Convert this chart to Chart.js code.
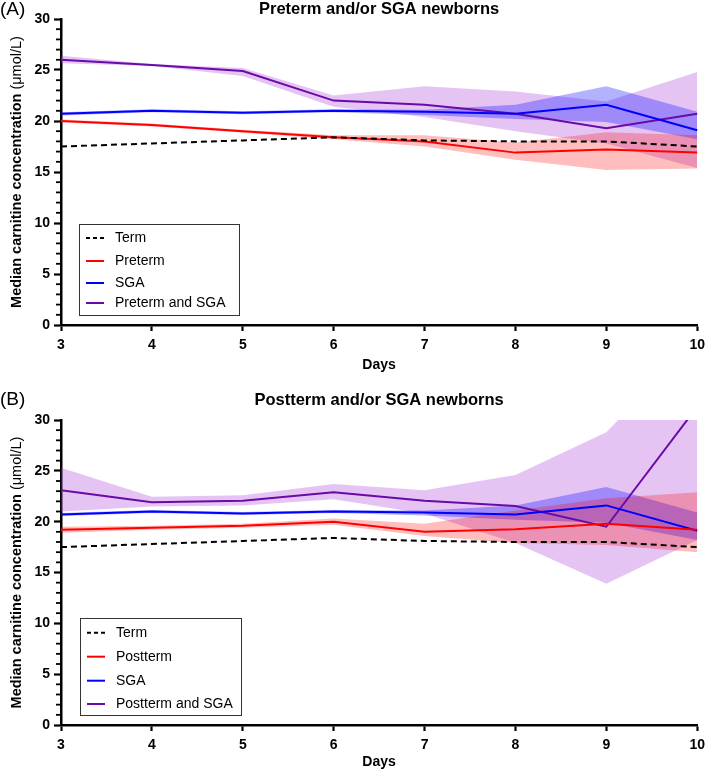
<!DOCTYPE html>
<html><head><meta charset="utf-8">
<script src="https://cdn.jsdelivr.net/npm/chart.js@4.4.1/dist/chart.umd.min.js"></script>
<style>
html,body{margin:0;padding:0;background:#fff;}
#wrap{position:relative;width:709px;height:771px;overflow:hidden;}
canvas{position:absolute;left:0;display:block;}
</style></head><body>
<div id="wrap">
<canvas id="cA" width="711" height="385" style="top:0"></canvas>
<canvas id="cB" width="711" height="386" style="top:385px"></canvas>
</div>
<script>
// ---- data ----
const days = [3, 4, 5, 6, 7, 8, 9, 10];
const yMin = 0, yMax = 30, yStep = 5, yMinorStep = 1;

const titleA = 'Preterm and/or SGA newborns';
const titleB = 'Postterm and/or SGA newborns';
const yTitleBold = 'Median carnitine concentration ';
const yTitleUnit = '(\u03bcmol/L)';
const xTitle = 'Days';
const legendA = ['Term', 'Preterm', 'SGA', 'Preterm and SGA'];
const legendB = ['Term', 'Postterm', 'SGA', 'Postterm and SGA'];

// Panel A
const termA        = [17.5, 17.8, 18.1, 18.4, 18.1, 18.0, 18.0, 17.5];
const pretermA     = [20.0, 19.6, 19.0, 18.4, 18.0, 16.9, 17.2, 16.9];
const pretermLoA   = [19.85, 19.45, 18.85, 18.2, 17.5, 16.2, 15.2, 15.35];
const pretermHiA   = [20.15, 19.75, 19.15, 18.6, 18.6, 17.9, 18.9, 18.6];
const sgaA         = [20.7, 21.0, 20.8, 21.0, 20.9, 20.7, 21.6, 19.1];
const sgaLoA       = [20.55, 20.85, 20.65, 20.85, 20.6, 20.2, 19.9, 18.2];
const sgaHiA       = [20.85, 21.15, 20.95, 21.15, 21.1, 21.6, 23.4, 20.9];
const pretermSgaA  = [26.0, 25.5, 24.9, 22.0, 21.6, 20.7, 19.3, 20.7];
const pretermSgaLoA= [25.65, 25.4, 24.4, 21.4, 20.4, 19.0, 17.8, 15.4];
const pretermSgaHiA= [26.4, 25.6, 25.2, 22.5, 23.4, 22.9, 21.9, 24.8];

// Panel B
const termB         = [17.5, 17.8, 18.1, 18.4, 18.1, 18.0, 18.0, 17.5];
const posttermB     = [19.2, 19.4, 19.6, 20.0, 19.0, 19.25, 19.8, 19.2];
const posttermLoB   = [18.9, 19.2, 19.4, 19.7, 18.6, 17.9, 17.7, 17.0];
const posttermHiB   = [19.5, 19.6, 19.8, 20.3, 19.8, 21.1, 22.3, 22.9];
const sgaB          = [20.7, 21.0, 20.8, 21.0, 20.9, 20.7, 21.6, 19.1];
const sgaLoB        = [20.55, 20.85, 20.65, 20.85, 20.6, 20.2, 19.9, 18.2];
const sgaHiB        = [20.85, 21.15, 20.95, 21.15, 21.1, 21.6, 23.4, 20.9];
const posttermSgaB  = [23.1, 21.9, 22.05, 22.9, 22.05, 21.55, 19.5, 31.3];
const posttermSgaLoB= [21.0, 21.5, 21.6, 22.2, 20.8, 17.9, 13.9, 18.2];
const posttermSgaHiB= [25.3, 22.45, 22.6, 23.7, 23.1, 24.6, 28.8, 38.0];

// ---- styles ----
const FONT = "'Liberation Sans', Arial, Helvetica, sans-serif";
Chart.defaults.font.family = FONT;
Chart.defaults.color = '#000';
const C_TERM = '#000000', C_RED = '#ff0000', C_BLUE = '#0000ff', C_PURPLE = '#6a0aa8';
const F_RED = 'rgba(255,0,0,0.26)', F_BLUE = 'rgba(0,0,255,0.30)', F_PURPLE = 'rgba(170,60,220,0.30)';

function lineSet(label, data, color, dash) {
  return {label, data, borderColor: color, backgroundColor: color, borderWidth: 2,
    borderDash: dash || [], pointRadius: 0, tension: 0, fill: false};
}
function bandSets(lo, hi, fillColor) {
  return [
    {label: '_hi', data: hi, borderWidth: 0, borderColor: 'rgba(0,0,0,0)', pointRadius: 0, fill: false, tension: 0},
    {label: '_lo', data: lo, borderWidth: 0, borderColor: 'rgba(0,0,0,0)', pointRadius: 0, fill: '-1', backgroundColor: fillColor, tension: 0}
  ];
}

const minorTicks = {
  id: 'minorTicks',
  afterDraw(chart) {
    const y = chart.scales.y, ctx = chart.ctx;
    ctx.save();
    ctx.strokeStyle = '#000'; ctx.lineWidth = 1.8;
    for (let v = yMin; v <= yMax; v += yMinorStep) {
      if (v % yStep === 0) continue;
      const py = y.getPixelForValue(v);
      ctx.beginPath(); ctx.moveTo(chart.chartArea.left - 5, py); ctx.lineTo(chart.chartArea.left, py); ctx.stroke();
    }
    ctx.restore();
  }
};

const panelText = {
  id: 'panelText',
  afterDraw(chart, args, o) {
    const ctx = chart.ctx, ca = chart.chartArea;
    ctx.save();
    ctx.fillStyle = '#000';
    ctx.textBaseline = 'middle';
    ctx.font = '19px ' + FONT; ctx.textAlign = 'left';
    ctx.fillText(o.letter, 0, o.letterY);
    ctx.font = 'bold 16.5px ' + FONT; ctx.textAlign = 'center';
    ctx.fillText(o.title, (ca.left + ca.right) / 2, o.titleY);
    ctx.translate(17, (ca.top + ca.bottom) / 2);
    ctx.rotate(-Math.PI / 2);
    ctx.font = 'bold 14.5px ' + FONT;
    const w1 = ctx.measureText(yTitleBold).width;
    ctx.font = '14.5px ' + FONT;
    const w2 = ctx.measureText(yTitleUnit).width;
    const start = -(w1 + w2) / 2;
    ctx.textAlign = 'left';
    ctx.font = 'bold 14.5px ' + FONT;
    ctx.fillText(yTitleBold, start, 0);
    ctx.font = '14.5px ' + FONT;
    ctx.fillText(yTitleUnit, start + w1, 0);
    ctx.restore();
  }
};

const boxLegend = {
  id: 'boxLegend',
  afterDraw(chart, args, o) {
    const ctx = chart.ctx;
    ctx.save();
    ctx.fillStyle = '#fff';
    ctx.fillRect(o.x, o.y, o.w, o.h);
    ctx.strokeStyle = '#333'; ctx.lineWidth = 1;
    ctx.strokeRect(o.x + 0.5, o.y + 0.5, o.w, o.h);
    ctx.font = '14px ' + FONT;
    ctx.textBaseline = 'middle'; ctx.textAlign = 'left';
    o.items.forEach((it, i) => {
      const yy = o.rows[i];
      ctx.strokeStyle = it.color; ctx.lineWidth = 2;
      ctx.setLineDash(it.dash || []);
      ctx.beginPath(); ctx.moveTo(o.x + 7, yy); ctx.lineTo(o.x + 25, yy); ctx.stroke();
      ctx.setLineDash([]);
      ctx.fillStyle = '#000';
      ctx.fillText(it.label, o.x + 36, yy + 0.5);
    });
    ctx.restore();
  }
};

function makeChart(id, cfg) {
  const datasets = [
    lineSet(cfg.legend[0], cfg.term, C_TERM, [6, 4]),
    lineSet(cfg.legend[1], cfg.red, C_RED),
    lineSet(cfg.legend[2], cfg.blue, C_BLUE),
    lineSet(cfg.legend[3], cfg.purple, C_PURPLE),
    ...bandSets(cfg.redLo, cfg.redHi, F_RED),
    ...bandSets(cfg.blueLo, cfg.blueHi, F_BLUE),
    ...bandSets(cfg.purpleLo, cfg.purpleHi, F_PURPLE)
  ];
  return new Chart(document.getElementById(id), {
    type: 'line',
    data: {labels: days.map(String), datasets},
    plugins: [minorTicks, panelText, boxLegend],
    options: {
      responsive: false, animation: false, events: [],
      layout: {padding: {top: cfg.padTop, right: 12, bottom: 0, left: 0}},
      plugins: {
        legend: {display: false}, tooltip: {enabled: false}, title: {display: false},
        filler: {propagate: false, drawTime: 'beforeDatasetsDraw'},
        panelText: {letter: cfg.letter, letterY: cfg.letterY, title: cfg.title, titleY: cfg.titleY},
        boxLegend: {x: cfg.lx, y: cfg.ly, w: cfg.lw, h: cfg.lh, rows: cfg.rows,
          items: [
            {label: cfg.legend[0], color: C_TERM, dash: [4, 3]},
            {label: cfg.legend[1], color: C_RED},
            {label: cfg.legend[2], color: C_BLUE},
            {label: cfg.legend[3], color: C_PURPLE}
          ]}
      },
      scales: {
        x: {
          offset: false,
          grid: {display: true, drawOnChartArea: false, drawTicks: true, tickLength: 6, tickWidth: 2.2, tickColor: '#000'},
          border: {display: true, color: '#000', width: 2.5},
          ticks: {padding: 6, color: '#000', font: {size: 14, weight: 'bold'}, maxRotation: 0, autoSkip: false},
          title: {display: true, text: xTitle, color: '#000', font: {size: 14, weight: 'bold'}, padding: {top: 0, bottom: cfg.xTitlePad}},
          afterFit: s => { s.height = cfg.xHeight; }
        },
        y: {
          min: yMin, max: yMax,
          grid: {display: true, drawOnChartArea: false, drawTicks: true, tickLength: 7, tickWidth: 2.2, tickColor: '#000'},
          border: {display: true, color: '#000', width: 2.5},
          ticks: {stepSize: yStep, padding: 4, color: '#000', font: {size: 14, weight: 'bold'}},
          afterFit: s => { s.width = 61; }
        }
      }
    }
  });
}

makeChart('cA', {
  legend: legendA, title: titleA, letter: '(A)', letterY: 10, titleY: 9.5,
  term: termA, red: pretermA, redLo: pretermLoA, redHi: pretermHiA,
  blue: sgaA, blueLo: sgaLoA, blueHi: sgaHiA,
  purple: pretermSgaA, purpleLo: pretermSgaLoA, purpleHi: pretermSgaHiA,
  padTop: 19, xHeight: 60, xTitlePad: 11,
  lx: 79, ly: 224, lw: 160, lh: 91, rows: [238, 261, 283, 303]
});
makeChart('cB', {
  legend: legendB, title: titleB, letter: '(B)', letterY: 15, titleY: 15.5,
  term: termB, red: posttermB, redLo: posttermLoB, redHi: posttermHiB,
  blue: sgaB, blueLo: sgaLoB, blueHi: sgaHiB,
  purple: posttermSgaB, purpleLo: posttermSgaLoB, purpleHi: posttermSgaHiB,
  padTop: 35, xHeight: 46, xTitlePad: 0,
  lx: 80, ly: 233, lw: 161, lh: 97, rows: [247.7, 271.7, 295.7, 319]
});
</script>
</body></html>
